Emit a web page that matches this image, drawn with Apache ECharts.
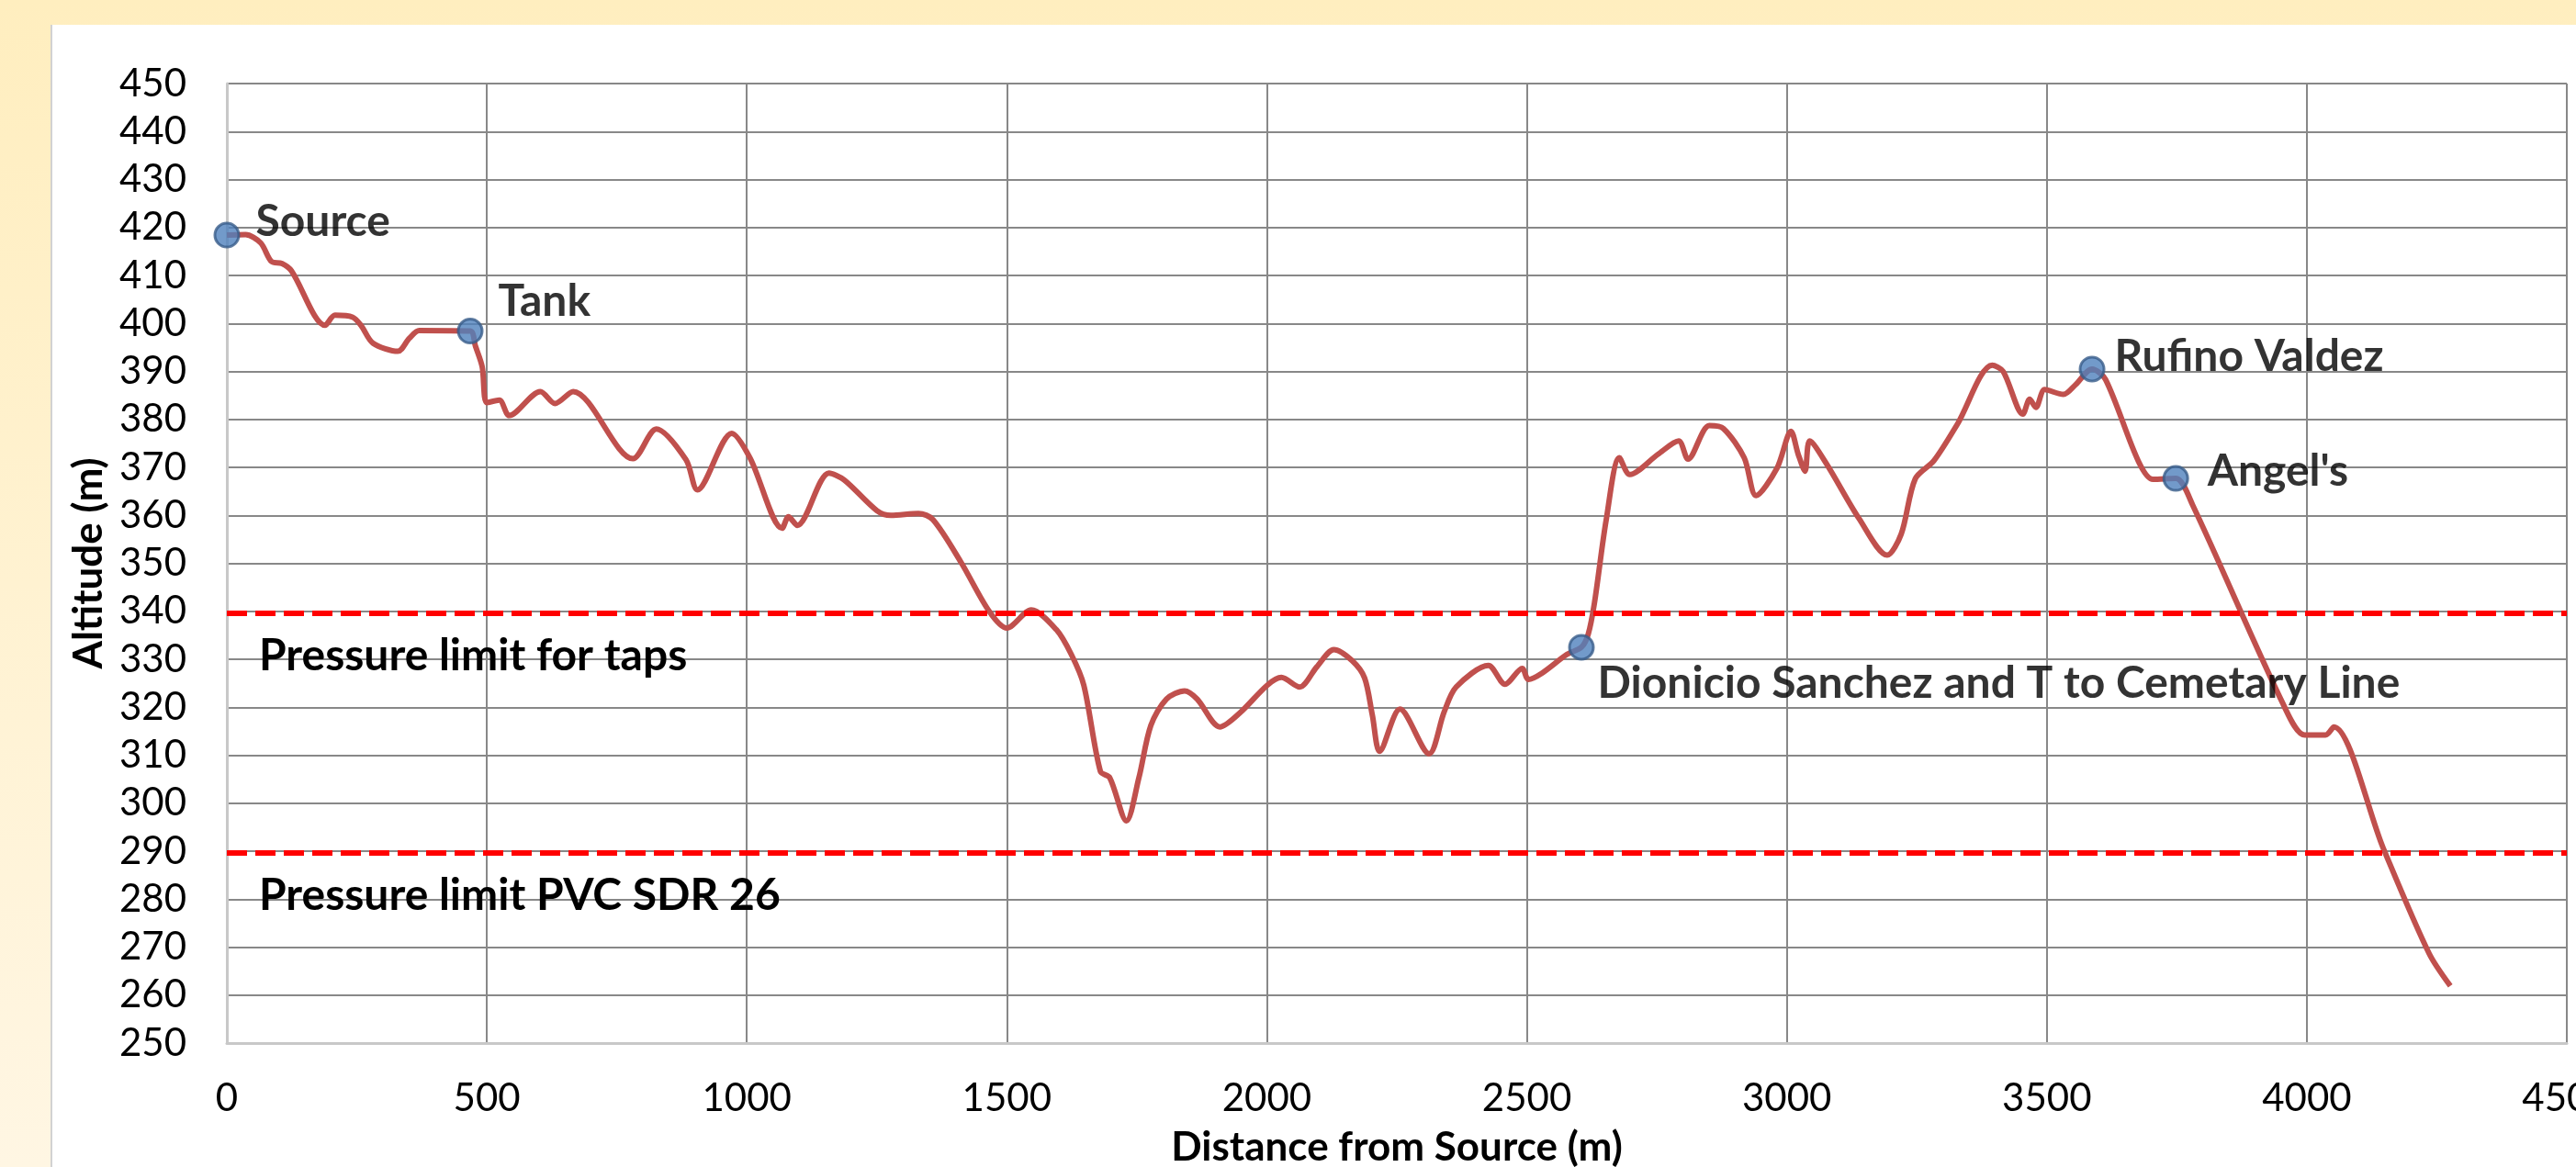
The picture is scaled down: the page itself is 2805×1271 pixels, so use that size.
<!DOCTYPE html>
<html>
<head>
<meta charset="utf-8">
<title>Altitude profile</title>
<script src="https://cdn.jsdelivr.net/npm/echarts@6/dist/echarts.min.js"></script>
<style>
  html, body {
    margin: 0;
    padding: 0;
    width: 2805px;
    height: 1271px;
    overflow: hidden;
    background: linear-gradient(#ffeebf, #fff6e3);
  }
  .panel {
    position: absolute;
    left: 55px;
    top: 27px;
    right: 0;
    bottom: 0;
    background: #ffffff;
    border-left: 2px solid #d2d2d2;
  }
  #chart {
    position: absolute;
    left: 0;
    top: 0;
    width: 2805px;
    height: 1271px;
  }
</style>
</head>
<body>
<div class="panel"></div>
<div id="chart"></div>
<script>
// altitude profile along the pipe (distance in m, altitude in m)
const distance = [
  0, 36, 65, 86, 106, 124, 189, 208, 242, 258, 281, 329, 351, 370, 468, 478, 491,
  500, 524, 543, 603, 631, 666, 781, 826, 883, 905, 971, 1006, 1068, 1080, 1097,
  1158, 1187, 1250, 1277, 1330, 1358, 1412, 1466, 1500, 1547, 1595, 1624, 1648,
  1680, 1698, 1730, 1754, 1777, 1807, 1842, 1866, 1910, 1948, 2001, 2028, 2063,
  2096, 2129, 2164, 2188, 2203, 2217, 2256, 2312, 2341, 2364, 2426, 2458, 2491,
  2503, 2529, 2577, 2605, 2618, 2630, 2653, 2678, 2698, 2752, 2792, 2810, 2851,
  2878, 2918, 2941, 2981, 3008, 3022, 3035, 3044, 3076, 3139, 3193, 3220, 3247,
  3283, 3328, 3395, 3416, 3454, 3467, 3479, 3496, 3532, 3555, 3587, 3613, 3676,
  3704, 3748, 3781, 3956, 3996, 4036, 4052, 4147, 4235, 4276
];
const altitude = [
  418.4, 418.5, 416.8, 412.9, 412.5, 411, 399.6, 401.7, 401.3, 399.6, 395.9, 394.2, 396.9, 398.5, 398.4, 395.3, 391,
  383.5, 384, 380.8, 385.8, 383.3, 385.8, 371.8, 378, 371.6, 365.3, 377.1, 372, 357.3, 359.7, 357.9,
  368.8, 367.4, 361, 360, 360.4, 359.1, 350.2, 340, 336.5, 340.3, 336.2, 331, 324.6,
  306.6, 305.3, 296.3, 305.3, 316.2, 321.7, 323.4, 321.7, 315.9, 318.8, 324.6, 326.2, 324.2,
  328.4, 332, 329.7, 326.1, 318.3, 310.8, 319.6, 310.3, 319, 324.2, 328.7, 324.8, 328.1,
  325.8, 327.1, 331, 332.5, 335.2, 341.7, 359.3, 372, 368.5, 372.7, 375.5, 371.7, 378.7,
  378.1, 372, 364.1, 369.8, 377.5, 372.7, 369.2, 375.5, 370.8, 359.3, 351.7, 356.1, 367.6,
  371.4, 379, 391.3, 390, 381.1, 384.2, 382.5, 386.2, 385.2, 387.2, 390.5, 388.3, 371.3,
  367.5, 367.7, 362, 320.3, 314.2, 314.2, 315.9, 290.6, 268.7, 261.9
];

// named points along the line
const pointNames = ['Source', 'Tank', 'Dionicio Sanchez and T to Cemetary Line', 'Rufino Valdez', "Angel's"];
const pointDistance = [0, 468, 2605, 3587, 3748];
const pointAltitude = [418.4, 398.4, 332.5, 390.5, 367.7];

// pressure limits
const limitNames = ['Pressure limit for taps', 'Pressure limit PVC SDR 26'];
const limitAltitude = [339.6, 289.7];

// axes
const xTicks = { min: 0, max: 4500, step: 500 };
const yTicks = { min: 250, max: 450, step: 10 };

const FONT = 'Lato';
const markerSize = 26;
// label offsets (px) from the marker centre
const labelOffsets = {
  'Source': [30, -15],
  'Tank': [29, -32],
  'Dionicio Sanchez and T to Cemetary Line': [16, 40],
  'Rufino Valdez': [23, -13],
  "Angel's": [33, -8]
};

const profileData = distance.map((d, i) => [d, altitude[i]]);

const pointData = pointNames.map((name, i) => ({
  name: name,
  value: [pointDistance[i], pointAltitude[i]],
  label: {
    offset: [labelOffsets[name][0] - markerSize / 2, labelOffsets[name][1]]
  }
}));

const option = {
  animation: false,
  backgroundColor: 'transparent',
  grid: {
    left: 247,
    right: 10,
    top: 91,
    bottom: 135,
    containLabel: false,
    outerBoundsMode: 'none'
  },
  xAxis: {
    type: 'value',
    min: xTicks.min,
    max: xTicks.max,
    interval: xTicks.step,
    name: 'Distance from Source (m)',
    nameLocation: 'middle',
    nameGap: 92,
    nameTextStyle: {
      fontFamily: FONT,
      fontSize: 44,
      fontWeight: 'bold',
      color: '#000'
    },
    axisLine: { show: true, onZero: false, lineStyle: { color: '#c8c8c8', width: 3 } },
    axisTick: { show: false },
    axisLabel: {
      fontFamily: FONT,
      fontSize: 42,
      color: '#000',
      margin: 39,
      formatter: (v) => String(v)
    },
    splitLine: { show: true, lineStyle: { color: '#888888', width: 2 } }
  },
  yAxis: {
    type: 'value',
    min: yTicks.min,
    max: yTicks.max,
    interval: yTicks.step,
    name: 'Altitude (m)',
    nameLocation: 'middle',
    nameGap: 126,
    nameTextStyle: {
      fontFamily: FONT,
      fontSize: 44,
      fontWeight: 'bold',
      color: '#000'
    },
    axisLine: { show: true, lineStyle: { color: '#c8c8c8', width: 3 } },
    axisTick: { show: false },
    axisLabel: {
      fontFamily: FONT,
      fontSize: 42,
      color: '#000',
      margin: 44,
      formatter: (v) => String(v)
    },
    splitLine: { show: true, lineStyle: { color: '#888888', width: 2 } }
  },
  series: [
    {
      name: 'Profile',
      type: 'line',
      data: profileData,
      smooth: 0.3,
      showSymbol: false,
      z: 3,
      lineStyle: { color: '#c0504d', width: 6 },
      markLine: {
        silent: true,
        symbol: 'none',
        lineStyle: { color: '#ff0000', width: 6, type: [22, 9] },
        label: {
          show: true,
          position: 'insideStartBottom',
          formatter: '{b}',
          fontFamily: FONT,
          fontSize: 48,
          fontWeight: 'bold',
          color: '#000',
          padding: [18, 0, 0, 30]
        },
        data: limitNames.map((n, i) => ({ name: n, yAxis: limitAltitude[i] }))
      }
    },
    {
      name: 'Points',
      type: 'scatter',
      data: pointData,
      symbol: 'circle',
      symbolSize: markerSize,
      z: 5,
      itemStyle: {
        color: '#4f81bd',
        borderColor: '#385d8a',
        borderWidth: 3
      },
      label: {
        show: true,
        position: 'right',
        distance: 0,
        formatter: '{b}',
        fontFamily: FONT,
        fontSize: 48,
        fontWeight: 'bold',
        color: '#000'
      }
    }
  ]
};

const myChart = echarts.init(document.getElementById('chart'));
myChart.setOption(option);
</script>
</body>
</html>
